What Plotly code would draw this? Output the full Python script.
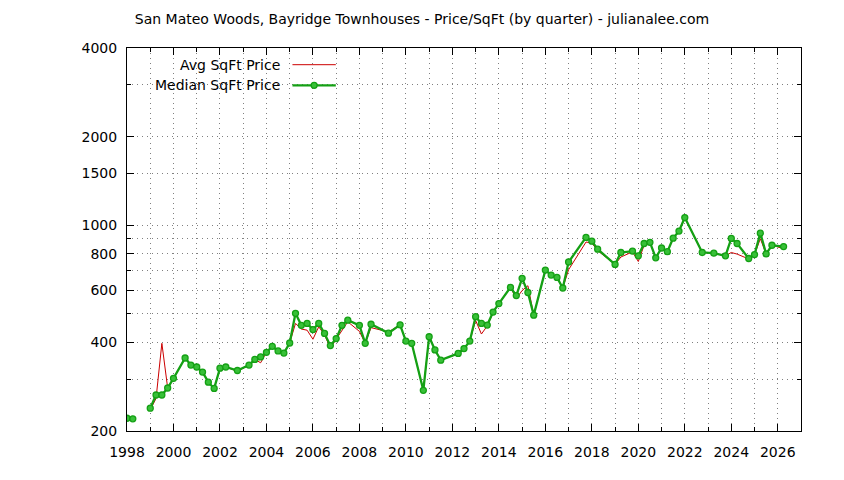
import plotly.graph_objects as go

# quarterly price per sqft, San Mateo Woods / Bayridge townhouses
quarters = [
    1998.00, 1998.25, 1998.50,
    1999.00, 1999.25, 1999.50, 1999.75,
    2000.00, 2000.50, 2000.75,
    2001.00, 2001.25, 2001.50, 2001.75,
    2002.00, 2002.25, 2002.75,
    2003.25, 2003.50, 2003.75,
    2004.00, 2004.25, 2004.50, 2004.75,
    2005.00, 2005.25, 2005.50, 2005.75,
    2006.00, 2006.25, 2006.50, 2006.75,
    2007.00, 2007.25, 2007.50,
    2008.00, 2008.25, 2008.50,
    2009.25, 2009.75,
    2010.00, 2010.25, 2010.75,
    2011.00, 2011.25, 2011.50,
    2012.25, 2012.50, 2012.75,
    2013.00, 2013.25, 2013.50, 2013.75,
    2014.00, 2014.50, 2014.75,
    2015.00, 2015.25, 2015.50,
    2016.00, 2016.25, 2016.50, 2016.75,
    2017.00, 2017.75,
    2018.00, 2018.25,
    2019.00, 2019.25, 2019.75,
    2020.00, 2020.25, 2020.50, 2020.75,
    2021.00, 2021.25, 2021.50, 2021.75,
    2022.00, 2022.75,
    2023.25, 2023.75,
    2024.00, 2024.25, 2024.75,
    2025.00, 2025.25, 2025.50, 2025.75,
    2026.25,
]

median_ppsf = [
    221, 220, None,
    239, 265, 265, 280,
    302, 354, 335,
    330, 317, 293, 279,
    327, 330, 321,
    335, 350, 357,
    370, 388, 374, 368,
    398, 502, 457, 464,
    442, 464, 429, 390,
    412, 457, 476,
    457, 397, 461,
    430, 459,
    404, 397, 275,
    418, 377, 348,
    367, 381, 404,
    489, 464, 458, 507,
    542, 615, 577,
    660, 591, 495,
    704, 677, 665, 612,
    750, 909,
    883, 829,
    736, 808, 817,
    787, 867, 875, 775,
    837, 813, 904, 955,
    1062, 808,
    804, 787,
    902, 867, 771,
    795, 940, 799, 855,
    846,
]

avg_ppsf = [
    221, 220, None,
    236, 258, 397, 280,
    302, 354, 335,
    330, 317, 293, 279,
    327, 330, 319,
    335, 350, 341,
    370, 388, 374, 368,
    398, 464, 444, 440,
    410, 452, 424, 383,
    410, 439, 470,
    436, 397, 449,
    434, 459,
    404, 397, 275,
    418, 377, 348,
    367, 381, 404,
    475, 427, 455, 505,
    542, 615, 563,
    600, 623, 495,
    704, 677, 665, 612,
    706, 877,
    870, 820,
    736, 780, 812,
    753, 855, 875, 775,
    837, 813, 904, 955,
    1062, 808,
    804, 787,
    808, 798, 768,
    795, 900, 799, 855,
    833,
]

y_major = [200, 400, 600, 800, 1000, 1500, 2000, 4000]
y_minor = [300, 500, 700, 900, 3000]
x_major = list(range(1998, 2028, 2))

FONT = "DejaVu Sans"
RED = "#cc0000"
GREEN = "#14a014"
GREEN_FILL = "#38c038"
GRID = "#808080"
GRID_DASH = "1px,4px"

fig = go.Figure()
fig.add_trace(go.Scatter(
    x=quarters, y=avg_ppsf, mode="lines", name="Avg SqFt Price",
    line=dict(color=RED, width=1), connectgaps=False,
))
fig.add_trace(go.Scatter(
    x=quarters, y=median_ppsf, mode="lines+markers", name="Median SqFt Price",
    line=dict(color=GREEN, width=2.3), connectgaps=False,
    marker=dict(symbol="circle", size=6, color=GREEN_FILL, line=dict(color=GREEN, width=1.3)),
))

# gnuplot-style key: text right-aligned, sample to the right
key_text_x = 0.2298
key_line = (0.2455, 0.3098)
key_rows = [0.9564, 0.9026]
for txt, yy in zip(["Avg SqFt Price", "Median SqFt Price"], key_rows):
    fig.add_annotation(
        x=key_text_x, y=yy, xref="paper", yref="paper", text=txt,
        showarrow=False, xanchor="right", yanchor="middle",
        font=dict(family=FONT, size=14, color="black"),
    )
fig.add_shape(type="line", xref="paper", yref="paper",
              x0=key_line[0], x1=key_line[1], y0=key_rows[0], y1=key_rows[0],
              line=dict(color=RED, width=1))
fig.add_shape(type="line", xref="paper", yref="paper",
              x0=key_line[0], x1=key_line[1], y0=key_rows[1], y1=key_rows[1],
              line=dict(color=GREEN, width=2.3))
fig.add_shape(type="circle", xref="paper", yref="paper",
              xsizemode="pixel", ysizemode="pixel",
              xanchor=(key_line[0] + key_line[1]) / 2, yanchor=key_rows[1],
              x0=-3, x1=3, y0=-3, y1=3,
              fillcolor=GREEN_FILL, line=dict(color=GREEN, width=1.3))

# page puts the plot 8px in from the top-left, margins compensate
fig.update_layout(
    width=844, height=480,
    margin=dict(l=119, r=51, t=40, b=57),
    paper_bgcolor="white", plot_bgcolor="white",
    showlegend=False,
    font=dict(family=FONT, size=14, color="black"),
    title=dict(
        text="San Mateo Woods, Bayridge Townhouses - Price/SqFt (by quarter) - julianalee.com",
        x=414 / 844, xanchor="center", y=1 - 11 / 480, yanchor="middle",
        font=dict(family=FONT, size=14, color="black"),
    ),
)
fig.update_xaxes(
    range=[1998, 2027], tickmode="array", tickvals=x_major,
    ticks="inside", ticklen=7, tickcolor="black",
    showline=True, linecolor="black", linewidth=1, mirror="ticks",
    showgrid=True, gridcolor=GRID, griddash=GRID_DASH, gridwidth=1,
    zeroline=False, ticklabelstandoff=8,
    minor=dict(dtick=1, tick0=1998, ticks="inside", ticklen=4, tickcolor="black",
               showgrid=True, gridcolor=GRID, griddash=GRID_DASH),
)
fig.update_yaxes(
    type="log", range=[2.30103, 3.60206],
    tickmode="array", tickvals=y_major, ticktext=[str(v) for v in y_major],
    ticks="inside", ticklen=7, tickcolor="black",
    showline=True, linecolor="black", linewidth=1, mirror="ticks",
    showgrid=True, gridcolor=GRID, griddash=GRID_DASH, gridwidth=1,
    zeroline=False, ticklabelstandoff=6,
    minor=dict(tickmode="array", tickvals=y_minor, ticks="inside", ticklen=4,
               tickcolor="black", showgrid=True, gridcolor=GRID, griddash=GRID_DASH),
)

fig.write_html("out.html")
